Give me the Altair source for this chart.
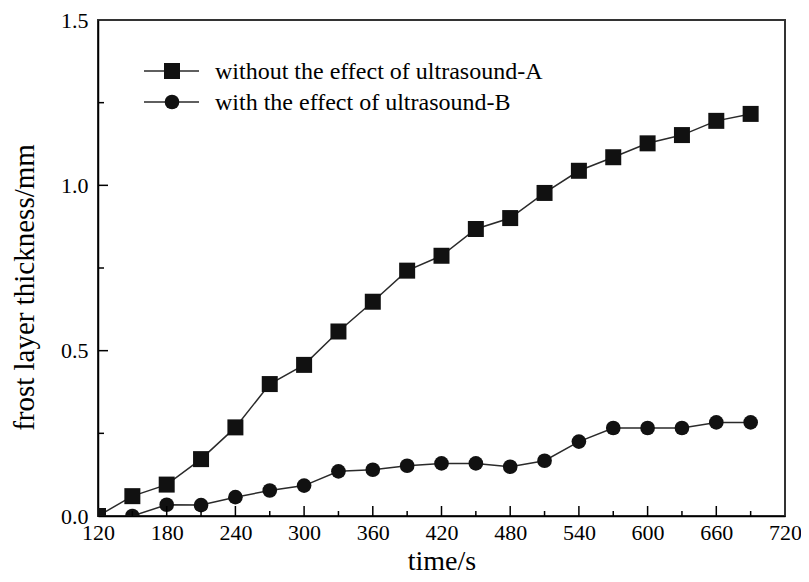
import altair as alt
import pandas as pd

series_names = ["without the effect of ultrasound-A", "with the effect of ultrasound-B"]

time_a = [120, 150, 180, 210, 240, 270, 300, 330, 360, 390, 420, 450, 480, 510, 540, 570, 600, 630, 660, 690]
thick_a = [0.0, 0.06, 0.095, 0.172, 0.268, 0.399, 0.457, 0.558, 0.648, 0.742, 0.787, 0.868, 0.901, 0.977,
           1.044, 1.085, 1.127, 1.152, 1.195, 1.216]

time_b = [150, 180, 210, 240, 270, 300, 330, 360, 390, 420, 450, 480, 510, 540, 570, 600, 630, 660, 690]
thick_b = [0.0, 0.034, 0.033, 0.057, 0.077, 0.092, 0.135, 0.14, 0.152, 0.159, 0.159, 0.149, 0.167, 0.225,
           0.266, 0.266, 0.266, 0.283, 0.283]

x_tick_labels = [120, 180, 240, 300, 360, 420, 480, 540, 600, 660, 720]
y_tick_labels = [0.0, 0.5, 1.0, 1.5]
x_major_marks = [180, 240, 300, 360, 420, 480, 540, 600, 660]
x_minor_marks = [150, 210, 270, 330, 390, 450, 510, 570, 630, 690]
y_major_marks = [0.5, 1.0]
y_minor_marks = [0.25, 0.75, 1.25]

FONT = "Liberation Serif"
W, H = 687, 496

df_a = pd.DataFrame({"time": time_a, "thickness": thick_a, "series": series_names[0]})
df_b = pd.DataFrame({"time": time_b, "thickness": thick_b, "series": series_names[1]})

x_scale = alt.Scale(domain=[120, 720], nice=False, zero=False)
y_scale = alt.Scale(domain=[0, 1.5], nice=False)

x_axis = alt.Axis(values=x_tick_labels, title="time/s", ticks=False, grid=False,
                  labelFontSize=22, titleFontSize=28, labelFont=FONT, titleFont=FONT,
                  labelPadding=6, domainColor="black", domainWidth=1.5,
                  labelColor="black", titleColor="black", titleFontWeight="normal",
                  titleY=53, titleBaseline="alphabetic", labelFlush=False)
y_axis = alt.Axis(values=y_tick_labels, format=".1f", title="frost layer thickness/mm", ticks=False,
                  grid=False, labelFontSize=22, titleFontSize=29, labelFont=FONT, titleFont=FONT,
                  labelPadding=10, domainColor="black", domainWidth=1.5,
                  labelColor="black", titleColor="black", titleFontWeight="normal",
                  titleX=-74, titleY=267, titleBaseline="middle", titleAngle=-90, labelFlush=False)

X = alt.X("time:Q", scale=x_scale, axis=x_axis)
Y = alt.Y("thickness:Q", scale=y_scale, axis=y_axis)

line_color = "#2a2a2a"

line_a = alt.Chart(df_a).mark_line(color=line_color, strokeWidth=1.5, clip=True).encode(x=X, y=Y)
pts_a = alt.Chart(df_a).mark_point(shape="square", filled=True, size=256, color="#111111",
                                    opacity=1, clip=True).encode(x=X, y=Y)
line_b = alt.Chart(df_b).mark_line(color=line_color, strokeWidth=1.5, clip=True).encode(x=X, y=Y)
pts_b = alt.Chart(df_b).mark_point(shape="circle", filled=True, size=215, color="#111111",
                                    opacity=1, clip=True).encode(x=X, y=Y)

# inward ticks
xt_major = alt.Chart(pd.DataFrame({"time": x_major_marks})).mark_rule(color="black", strokeWidth=1.5).encode(
    x=X, y=alt.value(H), y2=alt.value(H - 10))
xt_minor = alt.Chart(pd.DataFrame({"time": x_minor_marks})).mark_rule(color="black", strokeWidth=1.5).encode(
    x=X, y=alt.value(H), y2=alt.value(H - 5))
yt_major = alt.Chart(pd.DataFrame({"thickness": y_major_marks})).mark_rule(color="black", strokeWidth=1.5).encode(
    y=Y, x=alt.value(0), x2=alt.value(10))
yt_minor = alt.Chart(pd.DataFrame({"thickness": y_minor_marks})).mark_rule(color="black", strokeWidth=1.5).encode(
    y=Y, x=alt.value(0), x2=alt.value(6))

# legend
legend_layers = []
legend_rows = [(51, "square", 256), (82, "circle", 215)]
for name, (ly, shp, sz) in zip(series_names, legend_rows):
    ldf = pd.DataFrame({"label": [name]})
    legend_layers.append(alt.Chart(ldf).mark_rule(color=line_color, strokeWidth=1.5).encode(
        x=alt.value(46), x2=alt.value(101), y=alt.value(ly)))
    legend_layers.append(alt.Chart(ldf).mark_point(shape=shp, filled=True, size=sz, color="#111111",
                                                   opacity=1).encode(x=alt.value(74), y=alt.value(ly)))
    legend_layers.append(alt.Chart(ldf).mark_text(align="left", baseline="alphabetic", font=FONT,
                                                  fontSize=24, color="black").encode(
        x=alt.value(117), y=alt.value(ly + 8), text="label:N"))

chart = alt.layer(line_a, line_b, pts_a, pts_b, xt_major, xt_minor, yt_major, yt_minor,
                  *legend_layers).properties(
    width=W, height=H,
    autosize=alt.AutoSizeParams(type="none"),
    padding={"left": 90, "top": 12, "right": 16, "bottom": 58},
    background="white",
).configure_view(stroke="#333333", strokeWidth=2)

chart.save("out.html", embed_options={"renderer": "svg", "actions": False})
